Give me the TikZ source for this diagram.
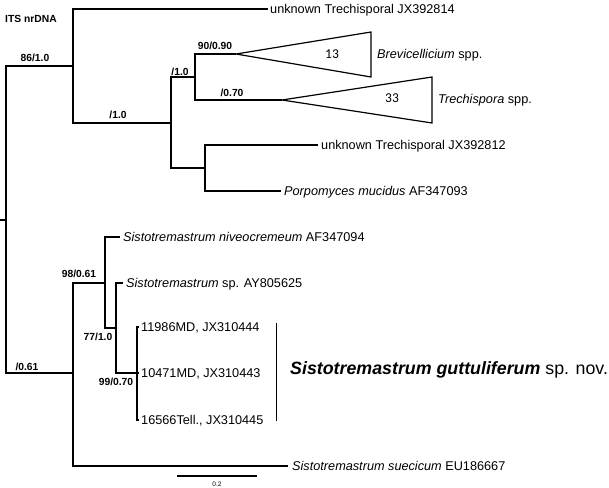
\documentclass[tikz,border=0pt]{standalone}
\usepackage{fontspec}
\setmainfont{Liberation Sans}
\newfontfamily\numfont{Carlito}
\begin{document}
\begin{tikzpicture}[x=1pt,y=-1pt,
  br/.style={line width=1.3pt},
  tri/.style={line width=1.2pt, line join=miter},
  lab/.style={anchor=west, inner sep=0pt, text height=9.2pt, text depth=0pt, font=\fontsize{12.7}{15}\selectfont},
  bs/.style={font=\fontsize{10.3}{12}\selectfont\bfseries, inner sep=0pt},
  cnt/.style={font=\numfont\fontsize{13.5}{15}\selectfont, inner sep=0pt},
]
\useasboundingbox (0,0) rectangle (609,487);
% internal nodes
\coordinate (rt) at (0,220);
\coordinate (r) at (6,220);
\coordinate (A) at (73,66);
\coordinate (B) at (73,373);
\coordinate (C) at (171,123);
\coordinate (D) at (195,77);
\coordinate (E) at (205,168);
\coordinate (F) at (105,283);
\coordinate (G) at (116,328);
\coordinate (H) at (137,373);
% tips
\coordinate (t1) at (268,9);
\coordinate (brev) at (236,54);
\coordinate (trech) at (282,100);
\coordinate (t2) at (318,145);
\coordinate (t3) at (281,191);
\coordinate (t4) at (120,237);
\coordinate (t5) at (123,283);
\coordinate (t6) at (139,327);
\coordinate (t7) at (139,373);
\coordinate (t8) at (139,420);
\coordinate (t9) at (288,466);
% branches
\draw[br] (rt) -- (r);
\draw[br] (r) |- (A);
\draw[br] (r) |- (B);
\draw[br] (A) |- (t1);
\draw[br] (A) |- (C);
\draw[br] (C) |- (D);
\draw[br] (C) |- (E);
\draw[br] (D) |- (brev);
\draw[br] (D) |- (trech);
\draw[br] (E) |- (t2);
\draw[br] (E) |- (t3);
\draw[br] (B) |- (F);
\draw[br] (B) |- (t9);
\draw[br] (F) |- (t4);
\draw[br] (F) |- (G);
\draw[br] (G) |- (t5);
\draw[br] (G) |- (H);
\draw[br] (H) |- (t6);
\draw[br] (H) |- (t7);
\draw[br] (H) |- (t8);
% collapsed clades
\draw[tri] (brev) -- (371,32) -- (371,77) -- cycle;
\draw[tri] (trech) -- (432,77) -- (432,123) -- cycle;
\node[cnt] (n13) at (332,54) {13};
\node[cnt] (n33) at (392,98) {33};
% tip labels
\node[lab] (l1) at ([xshift=2pt]t1) {unknown Trechisporal JX392814};
\node[lab] (lb) at (377,54) {\textit{Brevicellicium} spp.};
\node[lab] (lt) at (438,99) {\textit{Trechispora} spp.};
\node[lab] (l2) at ([xshift=3pt]t2) {unknown Trechisporal JX392812};
\node[lab] (l3) at ([xshift=3pt]t3) {\textit{Porpomyces mucidus} AF347093};
\node[lab] (l4) at ([xshift=3pt]t4) {\textit{Sistotremastrum niveocremeum} AF347094};
\node[lab] (l5) at ([xshift=3pt]t5) {\textit{Sistotremastrum} sp. AY805625};
\node[lab] (l6) at ([xshift=2pt]t6) {11986MD, JX310444};
\node[lab] (l7) at ([xshift=2pt]t7) {10471MD, JX310443};
\node[lab] (l8) at ([xshift=2pt]t8) {16566Tell., JX310445};
\node[lab] (l9) at ([xshift=4pt]t9) {\textit{Sistotremastrum suecicum} EU186667};
% support values
\node[bs] (s1) at (35,58) {86/1.0};
\node[bs] (s2) at (118,115) {/1.0};
\node[bs] (s3) at (180,72) {/1.0};
\node[bs] (s4) at (215,46) {90/0.90};
\node[bs] (s5) at (232,93) {/0.70};
\node[bs] (s6) at (79,274) {98/0.61};
\node[bs] (s7) at (98,337) {77/1.0};
\node[bs] (s8) at (116,382) {99/0.70};
\node[bs] (s9) at (27,367) {/0.61};
% new species bar
\coordinate (bt) at (276,323);
\coordinate (bb) at (276,421);
\draw[line width=1pt] (bt) -- (bb);
\node[anchor=base west, inner sep=0pt, font=\fontsize{17.8}{21}\selectfont] (sp) at (290,374) {\textbf{\textit{Sistotremastrum guttuliferum}} sp. nov.};
% title
\node[anchor=base west, inner sep=0pt, font=\fontsize{10.3}{12}\selectfont\bfseries] (title) at (5,23) {ITS nrDNA};
% scale bar
\coordinate (sb1) at (177,476);
\coordinate (sb2) at (257,476);
\draw[line width=1.2pt] (sb1) -- (sb2);
\node[inner sep=0pt, font=\fontsize{6.5}{8}\selectfont] (sc) at (217,484) {0.2};
\end{tikzpicture}
\end{document}
